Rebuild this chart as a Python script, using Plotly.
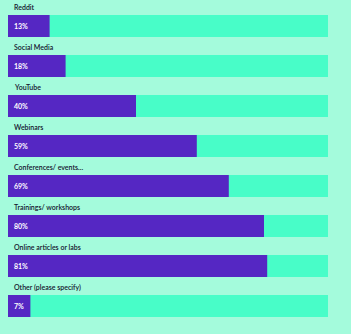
import plotly.graph_objects as go

categories = ["Reddit", "Social Media", "YouTube", "Webinars", "Conferences/ events...",
              "Trainings/ workshops", "Online articles or labs", "Other (please specify)"]
values = [13, 18, 40, 59, 69, 80, 81, 7]
value_labels = [f"{v}%" for v in values]

BG = "#a4fbdc"
TRACK = "#48fdc8"
PURPLE = "#5527c3"

idx = list(range(len(categories)))

fig = go.Figure()
fig.add_trace(go.Bar(y=idx, x=[100] * len(idx), orientation="h", width=0.55,
                     marker=dict(color=TRACK, line=dict(width=0)), hoverinfo="skip"))
fig.add_trace(go.Bar(y=idx, x=values, orientation="h", width=0.55,
                     marker=dict(color=PURPLE, line=dict(width=0)),
                     hovertext=categories, hoverinfo="text+x"))

annotations = []
for i, (c, lab) in enumerate(zip(categories, value_labels)):
    annotations.append(dict(x=0, y=i, xref="x", yref="y", text=c, showarrow=False,
                            xanchor="left", yanchor="middle", xshift=4, yshift=19,
                            font=dict(family="Lato", size=7, color="#14142e", weight=600)))
    annotations.append(dict(x=0, y=i, xref="x", yref="y", text=lab, showarrow=False,
                            xanchor="left", yanchor="middle", xshift=4, yshift=0,
                            font=dict(family="Lato", size=7, color="#ffffff", weight="bold")))

fig.update_layout(
    width=351, height=334,
    margin=dict(l=8, r=23, t=0, b=0),
    paper_bgcolor=BG, plot_bgcolor=BG,
    barmode="overlay", showlegend=False,
    xaxis=dict(range=[0, 100], visible=False, fixedrange=True),
    yaxis=dict(range=[7.7, -0.65], visible=False, fixedrange=True),
    annotations=annotations,
)
fig.write_html("out.html")
